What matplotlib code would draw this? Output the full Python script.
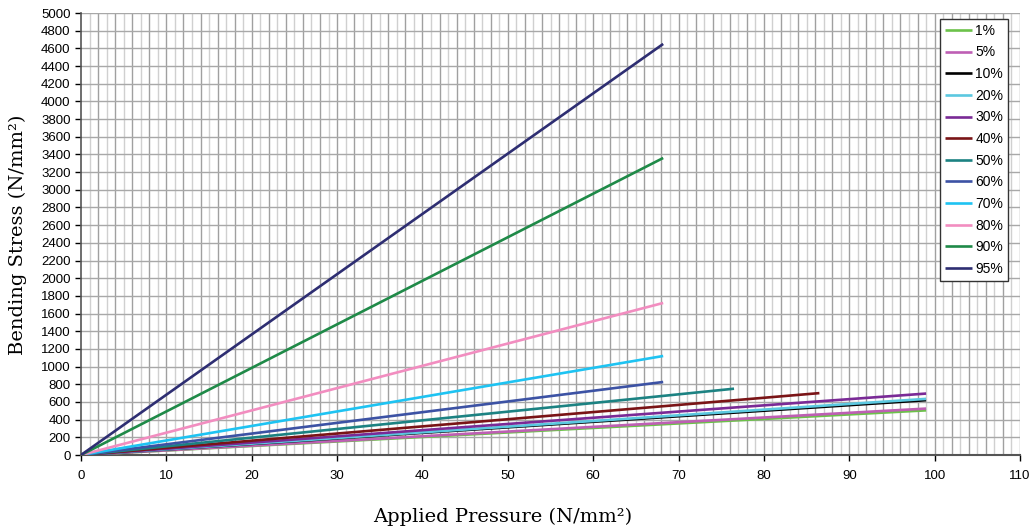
import matplotlib
matplotlib.use("Agg")
import matplotlib.pyplot as plt
import numpy as np

labels = ["1%", "5%", "10%", "20%", "30%", "40%", "50%", "60%", "70%", "80%", "90%", "95%"]
end_pressure = [99.0, 99.0, 99.0, 99.0, 99.0, 86.5, 76.5, 68.2, 68.2, 68.2, 68.2, 68.2]
end_stress = [505, 525, 620, 635, 695, 700, 750, 826, 1120, 1720, 3360, 4650]
colors = ["#6CC24A", "#BE5FB4", "#000000", "#5BC8E0", "#7A2A96", "#7A1416",
          "#1C8282", "#3C52A4", "#1EC3F2", "#F28DC0", "#1F8A48", "#2E2E72"]

x_ticks = list(range(0, 111, 10))
y_ticks = list(range(0, 5001, 200))

fig = plt.figure(figsize=(10.35, 5.30), dpi=100)
ax = fig.add_axes([81/1035, 75/530, 939/1035, 442/530])

# grid
for xv in np.arange(1, 111, 1):
    ax.axvline(xv, color="#a0a0a0" if xv % 2 == 0 else "#d0d0d0", lw=1.0, zorder=0)
for yv in np.arange(200, 5001, 200):
    ax.axhline(yv, color="#a8a8a8", lw=1.0, zorder=0)

for lab, xp, yp, c in zip(labels, end_pressure, end_stress, colors):
    ax.plot([0, xp], [0, yp], color=c, lw=1.9, label=lab, solid_capstyle="butt", zorder=3)

ax.set_xlim(0, 110)
ax.set_ylim(0, 5000)
ax.set_xticks(x_ticks)
ax.set_yticks(y_ticks)
ax.tick_params(axis="both", labelsize=9.5, length=4, width=1, colors="#000000", direction="out")
ax.tick_params(axis="x", pad=7)
for t in ax.get_xticklabels() + ax.get_yticklabels():
    t.set_fontfamily("Liberation Sans")
for s in ["top", "right"]:
    ax.spines[s].set_visible(False)
ax.spines["left"].set_color("#555555")
ax.spines["bottom"].set_color("#555555")
ax.spines["left"].set_linewidth(1.2)
ax.spines["bottom"].set_linewidth(1.5)

fig.text(18/1035, 1 - 235/530, "Bending Stress (N/mm²)", rotation=90, ha="center", va="center",
         fontsize=14, family="DejaVu Serif")
fig.text(503/1035, 1 - 517/530, "Applied Pressure (N/mm²)", ha="center", va="center",
         fontsize=14, family="DejaVu Serif")

leg = ax.legend(loc="upper right", frameon=True, fancybox=False, handlelength=2.0, handletextpad=0.2,
                labelspacing=0.55, borderpad=0.35, borderaxespad=0.0,
                prop={"family": "Liberation Sans", "size": 10})
leg.get_frame().set_edgecolor("#333333")
leg.get_frame().set_linewidth(1.0)
leg.get_frame().set_alpha(1.0)
leg.set_zorder(5)
leg.set_bbox_to_anchor((1008/1035, 1 - 19/530), transform=fig.transFigure)

fig.savefig("out.png", dpi=100)
